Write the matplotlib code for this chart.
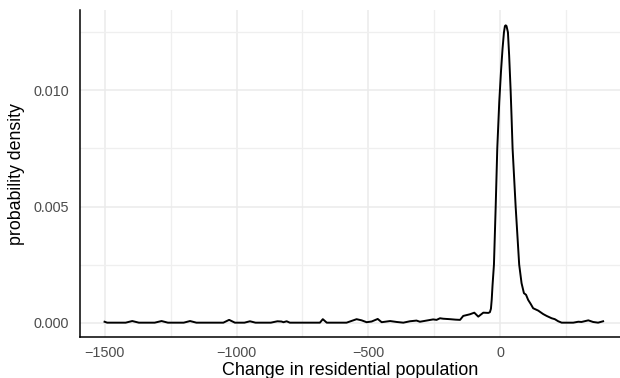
import matplotlib
matplotlib.use("Agg")
import matplotlib.pyplot as plt
from matplotlib.ticker import MultipleLocator

# Density curve (x: change in residential population, y: density)
change = [-1500, -1490, -1420, -1395, -1370, -1310, -1284, -1260, -1200, -1176, -1152,
          -1050, -1028, -1006, -970, -949, -928, -870, -845, -830, -822, -810, -798, -775,
          -700, -684, -673, -658, -600, -583, -545, -526, -507, -488, -465, -450, -418,
          -393, -368, -343, -318, -305, -280, -255, -242, -229, -217, -191, -170, -153,
          -141, -116, -99, -84, -65, -46, -40, -36, -33, -30, -27, -24.6, -18, -12, -4.5,
          2, 8, 13.3, 17, 20, 23, 28.4, 33, 38.6, 42, 46, 57.6, 71, 80, 89, 97, 105, 115, 124, 143, 162,
          175, 194, 206, 219, 232, 276, 295, 307, 333, 351, 370, 389]
density = [0.00004, 0.0, 0.0, 0.00007, 0.0, 0.0, 0.00007, 0.0, 0.0, 0.00007, 0.0,
           0.0, 0.00012, 0.0, 0.0, 0.00006, 0.0, 0.0, 0.00006, 0.00005, 0.00002, 0.00006, 0.0, 0.0,
           0.0, 0.0, 0.00015, 0.0, 0.0, 0.0, 0.00015, 0.0001, 0.00002, 0.00005, 0.00016, 0.00002, 0.00007,
           0.00003, 0.0, 0.00006, 0.00009, 0.00004, 0.00009, 0.00014, 0.00012, 0.00019, 0.00017, 0.00015, 0.00013, 0.00012,
           0.00029, 0.00036, 0.00043, 0.00026, 0.00043, 0.00042, 0.00045, 0.0006, 0.0010, 0.0016, 0.0021, 0.0025, 0.0050, 0.0075, 0.0095,
           0.0108, 0.0118, 0.0125, 0.01277, 0.0128, 0.01277, 0.0125, 0.0115, 0.0100, 0.0089, 0.0075, 0.0050, 0.0025, 0.0017, 0.00127, 0.0012, 0.00098, 0.0008, 0.00062, 0.00052, 0.00037,
           0.00029, 0.00019, 0.00015, 0.00006, 0.0, 0.0, 0.00004, 0.00003, 0.0001, 0.00003, 0.0, 0.00006]

x_major = [-1500, -1000, -500, 0]
x_labels = ["\u22121500", "\u22121000", "\u2212500", "0"]
y_major = [0.000, 0.005, 0.010]
y_labels = ["0.000", "0.005", "0.010"]

plt.rcParams['font.family'] = ['Liberation Sans', 'DejaVu Sans']

fig = plt.figure(figsize=(6.2, 3.78), dpi=100)
ax = fig.add_axes([80 / 620, 1 - 337.3 / 378, 1 - 80 / 620, (337.3 - 10) / 378])

ax.plot(change, density, color="black", linewidth=1.4, solid_joinstyle="round")

ax.set_xlim(-1593, 453)
ax.set_ylim(-0.00063, 0.01346)

ax.set_xticks(x_major)
ax.set_xticklabels(x_labels)
ax.set_yticks(y_major)
ax.set_yticklabels(y_labels)
ax.xaxis.set_minor_locator(MultipleLocator(250))
ax.yaxis.set_minor_locator(MultipleLocator(0.0025))

ax.grid(True, which="major", color="#EBEBEB", linewidth=1.1)
ax.grid(True, which="minor", color="#EFEFEF", linewidth=0.9)
ax.set_axisbelow(True)

ax.tick_params(axis="both", which="both", length=0, labelsize=10.4, labelcolor="#4D4D4D")
ax.tick_params(axis="x", pad=6)
ax.tick_params(axis="y", pad=8)

for side in ["top", "right"]:
    ax.spines[side].set_visible(False)
for side in ["left", "bottom"]:
    ax.spines[side].set_color("black")
    ax.spines[side].set_linewidth(1.1)

ax.set_xlabel("Change in residential population", fontsize=12.9, color="black", labelpad=2)
ax.set_ylabel("probability density", fontsize=12.8, color="black", labelpad=6)

fig.savefig("out.png", dpi=100)
